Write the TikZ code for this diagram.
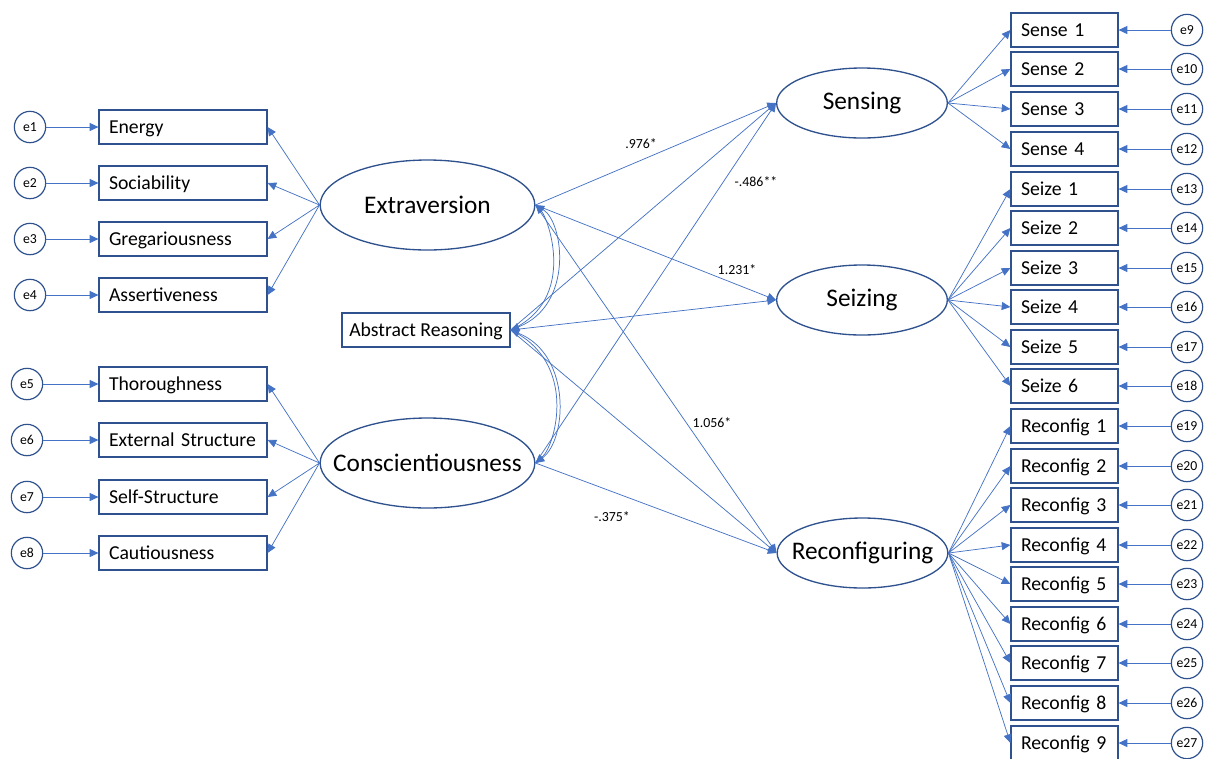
\documentclass[tikz,border=0pt]{standalone}
\usepackage{fontspec}
\setmainfont{Carlito}
\usepackage{tikz}
\usetikzlibrary{shapes.geometric,arrows.meta}
\definecolor{lineblue}{HTML}{4472C4}
\definecolor{edgeblue}{HTML}{2F528F}

\begin{document}
\begin{tikzpicture}[
    x=0.75pt, y=-0.75pt,
    latent/.style={ellipse, draw=edgeblue, line width=1pt, fill=white, minimum width=161pt, minimum height=67.5pt, inner sep=0pt, font=\fontsize{19}{21}\selectfont,
        execute at begin node=\hbox to 0pt\bgroup\hss, execute at end node=\hss\egroup},
    smalllatent/.style={latent, minimum width=128pt, minimum height=52.5pt},
    indicator/.style={rectangle, draw=edgeblue, line width=0.9pt, fill=white, minimum height=25.5pt, text width=111pt, inner xsep=7.5pt, align=left, text height=12pt, text depth=2.5pt, font=\fontsize{14.8}{16}\selectfont},
    item/.style={indicator, text width=65.25pt},
    reasoning/.style={rectangle, draw=edgeblue, line width=0.9pt, fill=white, minimum width=126pt, minimum height=25.5pt, inner xsep=2pt, text height=12pt, text depth=2.5pt, font=\fontsize{14.8}{16}\selectfont},
    error/.style={circle, draw=edgeblue, line width=0.9pt, fill=white, minimum size=23.5pt, inner sep=0pt, font=\fontsize{10.3}{12}\selectfont},
    arrow/.style={-{Triangle[length=6.5pt,width=6pt]}, draw=lineblue, line width=0.55pt},
    cov/.style={{Triangle[length=6.5pt,width=6pt]}-{Triangle[length=6.5pt,width=6pt]}, draw=lineblue, line width=0.55pt},
    coef/.style={font=\fontsize{10.4}{12}\selectfont}
]
\useasboundingbox (0,0) rectangle (1207,758);

% Latent factors
\node[latent] (Extra) at (427.5, 205) {Extraversion};
\node[latent] (Consc) at (427.5, 463) {Conscientiousness};
\node[reasoning] (AbsR) at (426, 330) {Abstract Reasoning};
\node[smalllatent] (Sens) at (862, 103) {Sensing};
\node[smalllatent] (Seiz) at (862, 300) {Seizing};
\node[smalllatent] (Reco) at (862.5, 553) {Reconfiguring};

% Extraversion indicators
\node[indicator] (Energy) at (183, 127) {Energy};
\node[indicator] (Socia) at (183, 183) {Sociability};
\node[indicator] (Grega) at (183, 239) {Gregariousness};
\node[indicator] (Asser) at (183, 295) {Assertiveness};
\node[error] (e1) at (30, 127) {e1};
\node[error] (e2) at (30, 183) {e2};
\node[error] (e3) at (30, 239) {e3};
\node[error] (e4) at (30, 295) {e4};

% Conscientiousness indicators
\node[indicator] (Thoro) at (183, 384) {Thoroughness};
\node[indicator] (ExtSt) at (183, 440) {External Structure};
\node[indicator] (SelfSt) at (183, 497) {Self-Structure};
\node[indicator] (Cauti) at (183, 553) {Cautiousness};
\node[error] (e5) at (27, 384) {e5};
\node[error] (e6) at (27, 440) {e6};
\node[error] (e7) at (27, 497) {e7};
\node[error] (e8) at (27, 553) {e8};

% Sensing items
\node[item] (S1) at (1064.5, 30) {Sense 1};
\node[item] (S2) at (1064.5, 69) {Sense 2};
\node[item] (S3) at (1064.5, 109) {Sense 3};
\node[item] (S4) at (1064.5, 149) {Sense 4};

% Seizing items
\node[item] (Z1) at (1064.5, 189) {Seize 1};
\node[item] (Z2) at (1064.5, 228) {Seize 2};
\node[item] (Z3) at (1064.5, 268) {Seize 3};
\node[item] (Z4) at (1064.5, 307) {Seize 4};
\node[item] (Z5) at (1064.5, 347) {Seize 5};
\node[item] (Z6) at (1064.5, 386) {Seize 6};

% Reconfiguring items
\node[item] (R1) at (1064.5, 426) {Reconfig 1};
\node[item] (R2) at (1064.5, 466) {Reconfig 2};
\node[item] (R3) at (1064.5, 505) {Reconfig 3};
\node[item] (R4) at (1064.5, 545) {Reconfig 4};
\node[item] (R5) at (1064.5, 584) {Reconfig 5};
\node[item] (R6) at (1064.5, 624) {Reconfig 6};
\node[item] (R7) at (1064.5, 663) {Reconfig 7};
\node[item] (R8) at (1064.5, 703) {Reconfig 8};
\node[item] (R9) at (1064.5, 743) {Reconfig 9};

% Right error terms
\node[error] (e9) at (1187, 30) {e9};
\node[error] (e10) at (1187, 69) {e10};
\node[error] (e11) at (1187, 109) {e11};
\node[error] (e12) at (1187, 149) {e12};
\node[error] (e13) at (1187, 189) {e13};
\node[error] (e14) at (1187, 228) {e14};
\node[error] (e15) at (1187, 268) {e15};
\node[error] (e16) at (1187, 307) {e16};
\node[error] (e17) at (1187, 347) {e17};
\node[error] (e18) at (1187, 386) {e18};
\node[error] (e19) at (1187, 426) {e19};
\node[error] (e20) at (1187, 466) {e20};
\node[error] (e21) at (1187, 505) {e21};
\node[error] (e22) at (1187, 545) {e22};
\node[error] (e23) at (1187, 584) {e23};
\node[error] (e24) at (1187, 624) {e24};
\node[error] (e25) at (1187, 663) {e25};
\node[error] (e26) at (1187, 703) {e26};
\node[error] (e27) at (1187, 743) {e27};

% Loadings, left
\draw[arrow] (Extra.west) -- (Energy.east);
\draw[arrow] (Extra.west) -- (Socia.east);
\draw[arrow] (Extra.west) -- (Grega.east);
\draw[arrow] (Extra.west) -- (Asser.east);
\draw[arrow] (Consc.west) -- (Thoro.east);
\draw[arrow] (Consc.west) -- (ExtSt.east);
\draw[arrow] (Consc.west) -- (SelfSt.east);
\draw[arrow] (Consc.west) -- (Cauti.east);
\draw[arrow] (e1) -- (Energy);
\draw[arrow] (e2) -- (Socia);
\draw[arrow] (e3) -- (Grega);
\draw[arrow] (e4) -- (Asser);
\draw[arrow] (e5) -- (Thoro);
\draw[arrow] (e6) -- (ExtSt);
\draw[arrow] (e7) -- (SelfSt);
\draw[arrow] (e8) -- (Cauti);

% Loadings, right
\draw[arrow] (Sens.east) -- (S1.west);
\draw[arrow] (Sens.east) -- (S2.west);
\draw[arrow] (Sens.east) -- (S3.west);
\draw[arrow] (Sens.east) -- (S4.west);
\draw[arrow] (Seiz.east) -- (Z1.west);
\draw[arrow] (Seiz.east) -- (Z2.west);
\draw[arrow] (Seiz.east) -- (Z3.west);
\draw[arrow] (Seiz.east) -- (Z4.west);
\draw[arrow] (Seiz.east) -- (Z5.west);
\draw[arrow] (Seiz.east) -- (Z6.west);
\draw[arrow] (Reco.east) -- (R1.west);
\draw[arrow] (Reco.east) -- (R2.west);
\draw[arrow] (Reco.east) -- (R3.west);
\draw[arrow] (Reco.east) -- (R4.west);
\draw[arrow] (Reco.east) -- (R5.west);
\draw[arrow] (Reco.east) -- (R6.west);
\draw[arrow] (Reco.east) -- (R7.west);
\draw[arrow] (Reco.east) -- (R8.west);
\draw[arrow] (Reco.east) -- (R9.west);
\draw[arrow] (e9) -- (S1);
\draw[arrow] (e10) -- (S2);
\draw[arrow] (e11) -- (S3);
\draw[arrow] (e12) -- (S4);
\draw[arrow] (e13) -- (Z1);
\draw[arrow] (e14) -- (Z2);
\draw[arrow] (e15) -- (Z3);
\draw[arrow] (e16) -- (Z4);
\draw[arrow] (e17) -- (Z5);
\draw[arrow] (e18) -- (Z6);
\draw[arrow] (e19) -- (R1);
\draw[arrow] (e20) -- (R2);
\draw[arrow] (e21) -- (R3);
\draw[arrow] (e22) -- (R4);
\draw[arrow] (e23) -- (R5);
\draw[arrow] (e24) -- (R6);
\draw[arrow] (e25) -- (R7);
\draw[arrow] (e26) -- (R8);
\draw[arrow] (e27) -- (R9);

% Structural paths
\draw[arrow] (Extra.east) -- (Sens.west);
\draw[arrow] (Extra.east) -- (Seiz.west);
\draw[arrow] (Extra.east) -- (Reco.west);
\draw[arrow] (AbsR.east) -- (Sens.west);
\draw[arrow] (AbsR.east) -- (Seiz.west);
\draw[arrow] (AbsR.east) -- (Reco.west);
\draw[arrow] (Consc.east) -- (Sens.west);
\draw[arrow] (Consc.east) -- (Reco.west);

% Covariances
\draw[cov] (Extra.east) .. controls (564,222) and (574,305) .. (AbsR.east);
\draw[cov] (AbsR.east) .. controls (572,355) and (567,440) .. (Consc.east);
\draw[cov] (Extra.east) .. controls (548,218) and (578,300) .. (AbsR.east)
    .. controls (578,362) and (556,445) .. (Consc.east);

% Coefficients
\node[coef] (c1) at (641, 144) {.976*};
\node[coef] (c2) at (756, 182) {-.486**};
\node[coef] (c3) at (737, 270) {1.231*};
\node[coef] (c4) at (712, 423) {1.056*};
\node[coef] (c5) at (612, 517) {-.375*};

\end{tikzpicture}
\end{document}
